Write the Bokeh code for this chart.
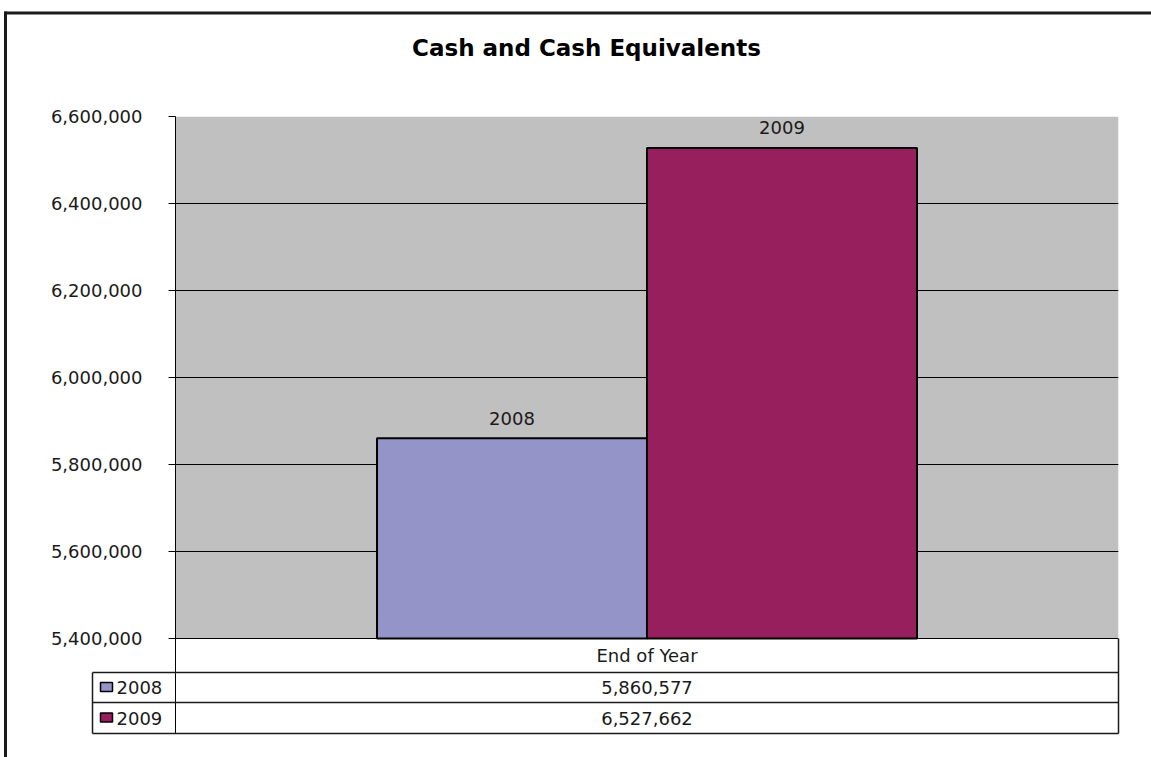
from bokeh.plotting import figure
from bokeh.models import ColumnDataSource, Range1d, FixedTicker, NumeralTickFormatter
from bokeh.transform import dodge
from bokeh.core.properties import value
from bokeh.embed import file_html
from bokeh.resources import INLINE

# ---------------- data ----------------
title_text = "Cash and Cash Equivalents"
categories = ["End of Year"]
series = ["2008", "2009"]
values_2008 = [5860577]
values_2009 = [6527662]
y_ticks = [5400000, 5600000, 5800000, 6000000, 6200000, 6400000, 6600000]
colors = ["#9494C8", "#971F5E"]

# ---------------- layout (pixels) ----------------
W, H = 1151, 757
FL, FR, FT, FB = 175, 1118, 116, 733      # frame edges
AXIS_BOTTOM = 638                          # pixel row of lowest tick
FONT = "DejaVu Sans"
FS = "18px"
TXT = "#1a1a1a"

y_min, y_max = y_ticks[0], y_ticks[-1]
per_px = (y_max - y_min) / (AXIS_BOTTOM - FT)
y_start = y_min - (FB - AXIS_BOTTOM) * per_px

# category positions on a numeric axis: category i occupies [i, i+1]
cat_x = [i + 0.5 for i in range(len(categories))]

p = figure(width=W, height=H,
           x_range=Range1d(0, len(categories)),
           y_range=Range1d(y_start, y_max),
           output_backend="svg", toolbar_location=None, x_axis_location=None,
           min_border_left=FL, min_border_right=W - FR,
           min_border_top=FT, min_border_bottom=H - FB,
           outline_line_color=None, background_fill_color="white",
           border_fill_color="white")

p.extra_x_ranges = {"px": Range1d(FL, FR)}
p.extra_y_ranges = {"px": Range1d(FB, FT)}

# gray plot area
p.quad(left=[FL], right=[FR], bottom=[y_min], top=[y_max], x_range_name="px",
       fill_color="#C0C0C0", line_color=None, level="image")

# grid & axis
p.xgrid.visible = False
p.ygrid.ticker = FixedTicker(ticks=y_ticks)
p.ygrid.grid_line_color = "black"
p.ygrid.grid_line_width = 1
ax = p.yaxis[0]
ax.ticker = FixedTicker(ticks=y_ticks)
ax.formatter = NumeralTickFormatter(format="0,0")
ax.major_tick_out = 7
ax.major_tick_in = 0
ax.minor_tick_out = 0
ax.minor_tick_in = 0
ax.axis_line_color = "black"
ax.major_tick_line_color = "black"
ax.major_label_text_font = FONT
ax.major_label_text_font_size = FS
ax.major_label_text_color = TXT
ax.major_label_standoff = 26

# bars
src = ColumnDataSource(dict(x=cat_x, cat=categories,
                            v2008=values_2008, v2009=values_2009))
BAR_W = 270 / (FR - FL)
for i, (name, col) in enumerate(zip(series, ["v2008", "v2009"])):
    off = (i - 0.5) * BAR_W
    p.vbar(x=dodge("x", off), top=col, bottom=y_min,
           width=BAR_W, source=src, fill_color=colors[i],
           line_color="black", line_width=2)
    p.text(x=dodge("x", off), y=col, text=value(name),
           source=src, y_offset=-20, text_align="center", text_baseline="middle",
           text_font=value(FONT), text_font_size=FS, text_color=TXT)

# data table: header and values
p.text(x=cat_x, y=[655], text=categories, y_range_name="px",
       text_align="center", text_baseline="middle",
       text_font=value(FONT), text_font_size=FS, text_color=TXT)
row_y = [687, 717.5]
tbl = ColumnDataSource(dict(x=cat_x * 2, y=row_y,
                            txt=[f"{v:,}" for v in values_2008 + values_2009]))
p.text(x="x", y="y", text="txt", source=tbl, y_range_name="px",
       text_align="center", text_baseline="middle",
       text_font=value(FONT), text_font_size=FS, text_color=TXT)

# table lines (pixel space)
LC = 92
p.segment(x0=[LC, LC, LC, FR, LC], y0=[672, 702, 733, AXIS_BOTTOM, 672],
          x1=[FR, FR, FR, FR, LC], y1=[672, 702, 733, FB, 733],
          x_range_name="px", y_range_name="px", line_color="#1a1a1a",
          line_width=1.5, level="overlay")

# legend swatches & labels in the table
p.quad(left=[100, 100], right=[112, 112], top=[682, 712.5], bottom=[691, 721.5],
       fill_color=colors, line_color="black", line_width=1.5,
       x_range_name="px", y_range_name="px", level="overlay")
p.text(x=[116, 116], y=row_y, text=series, x_range_name="px", y_range_name="px",
       text_align="left", text_baseline="middle", level="overlay",
       text_font=value(FONT), text_font_size=FS, text_color=TXT)

# outer chart border (left & top)
p.segment(x0=[5, 4], y0=[11, 12.5], x1=[5, W], y1=[H, 12.5],
          x_range_name="px", y_range_name="px", line_color="#1a1a1a",
          line_width=3, level="overlay")

# title
p.text(x=[586], y=[47], text=[title_text], x_range_name="px", y_range_name="px",
       text_align="center", text_baseline="middle", level="overlay",
       text_font=value(FONT), text_font_style="bold", text_font_size="23px",
       text_color="black")

open("out.html", "w").write(file_html(p, INLINE))
